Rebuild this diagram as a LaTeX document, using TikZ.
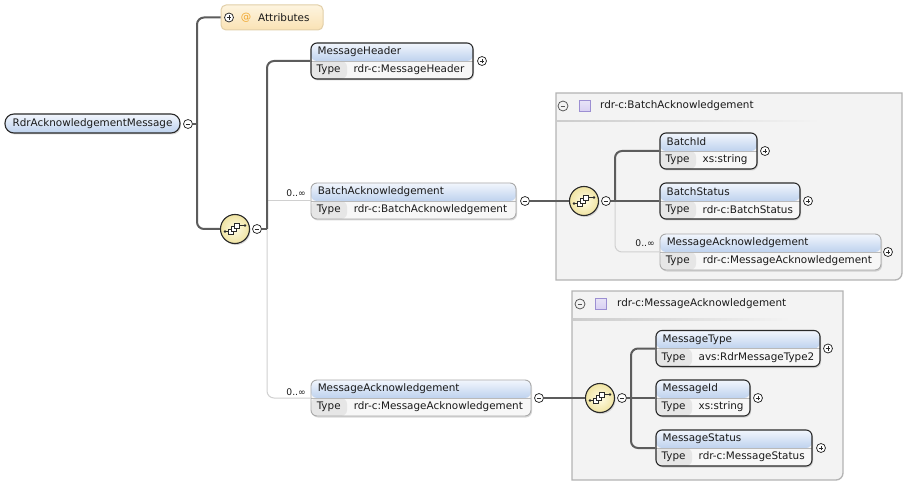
\documentclass[tikz,border=0pt]{standalone}
\usepackage{fontspec}
\setmainfont{DejaVu Sans}
\usetikzlibrary{calc,shadows}
\definecolor{hdTop}{HTML}{F2F6FD}
\definecolor{hdBot}{HTML}{BED2EE}
\definecolor{typeGray}{HTML}{E6E6E6}
\definecolor{valWhite}{HTML}{F7F7F7}
\definecolor{boxBorder}{HTML}{2A2A2A}
\definecolor{optBorder}{HTML}{A9A9A9}
\definecolor{lineDark}{HTML}{5C5C5C}
\definecolor{lineLight}{HTML}{D0D0D0}
\definecolor{grpFill}{HTML}{F3F3F3}
\definecolor{grpBorder}{HTML}{B4B4B4}
\definecolor{sepGray}{HTML}{CCCCCC}
\definecolor{attTop}{HTML}{FDF4DF}
\definecolor{attBot}{HTML}{FAE2B4}
\definecolor{attBorder}{HTML}{E2CFA8}
\definecolor{atOrange}{HTML}{F0A830}
\definecolor{seqIn}{HTML}{FFFCE6}
\definecolor{seqOut}{HTML}{F0E4A2}
\definecolor{purpFill}{HTML}{D8D0F2}
\definecolor{purpBorder}{HTML}{9C8FD2}
\definecolor{txt}{HTML}{1A1A1A}
\tikzset{
  conn/.style={draw=lineDark, line width=2pt},
  optconn/.style={draw=lineLight, line width=1pt},
  softshadow/.style={drop shadow={opacity=0.3, shadow xshift=1pt, shadow yshift=-1.5pt}},
  elembox/.style={rectangle, rounded corners=6pt, draw=boxBorder, line width=1.1pt,
    minimum height=36pt, inner sep=0pt, softshadow,
    path picture={
      \fill[valWhite] (path picture bounding box.south west) rectangle (path picture bounding box.north east);
      \shade[top color=hdTop, bottom color=hdBot] (path picture bounding box.north west) rectangle (path picture bounding box.east);
      \fill[typeGray] (path picture bounding box.south west) rectangle ([xshift=36pt]path picture bounding box.west);
      \draw[gray!55, line width=0.5pt] (path picture bounding box.west) -- (path picture bounding box.east);
    }},
  optbox/.style={draw=optBorder, line width=0.9pt},
  titletext/.style={anchor=west, inner sep=0pt, text=txt},
  typetext/.style={anchor=west, inner sep=0pt, text=txt},
  multtext/.style={anchor=east, inner sep=0pt, text=txt, font=\fontsize{9.2}{10}\selectfont},
  pmnode/.style={circle, draw=boxBorder, line width=0.75pt, fill=white, minimum size=9pt, inner sep=0pt},
  pmminus/.style={pmnode, path picture={
      \draw[line width=0.8pt] ([xshift=-2.3pt]path picture bounding box.center) -- ([xshift=2.3pt]path picture bounding box.center);}},
  pmplus/.style={pmnode, path picture={
      \draw[line width=0.8pt] ([xshift=-2.3pt]path picture bounding box.center) -- ([xshift=2.3pt]path picture bounding box.center);
      \draw[line width=0.8pt] ([yshift=-2.3pt]path picture bounding box.center) -- ([yshift=2.3pt]path picture bounding box.center);}},
  seqnode/.style={circle, draw=boxBorder, line width=1.1pt, minimum size=29pt, inner sep=0pt,
    inner color=seqIn, outer color=seqOut, softshadow,
    path picture={
      \begin{scope}[shift={(path picture bounding box.center)}]
        \draw[line width=0.7pt, boxBorder] (-10,2.5) -- (-4,2.5);
        \draw[line width=0.7pt, boxBorder] (4,-3.5) -- (10,-3.5);
        \fill[boxBorder] (-10,2.5) circle (1.4);
        \fill[boxBorder] (10,-3.5) circle (1.4);
        \filldraw[fill=white, draw=boxBorder, line width=0.7pt] (-7,0) rectangle (-1.5,5.5);
        \filldraw[fill=white, draw=boxBorder, line width=0.7pt] (-4,-3) rectangle (1.5,2.5);
        \filldraw[fill=white, draw=boxBorder, line width=0.7pt] (-1,-6) rectangle (4.5,-0.5);
      \end{scope}
    }},
  grp/.style={fill=grpFill, draw=grpBorder, line width=1.3pt},
  purpsq/.style={rectangle, minimum size=11pt, inner sep=0pt, draw=purpBorder, line width=0.6pt,
    top color=purpFill!60!white, bottom color=purpFill},
  grpminus/.style={pmminus, draw=boxBorder!80, minimum size=10pt, fill=grpFill},
  rootbox/.style={rectangle, rounded corners=9pt, draw=boxBorder, line width=1.1pt, softshadow,
    top color=hdTop, bottom color=hdBot, minimum height=19pt, inner sep=0pt, text=txt},
  attrbox/.style={rectangle, rounded corners=5pt, draw=attBorder, line width=1pt,
    top color=attTop, bottom color=attBot, inner sep=0pt}
}
\newcommand\elem[6]{%
  \node[elembox,#6,minimum width=#4pt] (#1) at (#2,#3) {};
  \node[titletext] (#1-t) at ([xshift=7pt,yshift=9pt]#1.west) {#5};
  \node[typetext] (#1-k) at ([xshift=6pt,yshift=-9pt]#1.west) {Type};
}
\newcommand\elemtype[2]{%
  \node[typetext] (#1-v) at ([xshift=43pt,yshift=-9pt]#1.west) {#2};
}
\begin{document}
\begin{tikzpicture}[x=1pt, y=-1pt, font=\fontsize{10.4}{12}\selectfont]
\useasboundingbox (0,0) rectangle (906,484);
\fill[white] (0,0) rectangle (906,484);

% group boxes
\filldraw[grp] (556,93) -- (902,93) [rounded corners=7pt] -- (902,280) [sharp corners] -- (556,280) -- cycle;
\shade[left color=sepGray, right color=grpFill] (557,120.5) rectangle (820,122);
\node[grpminus] (g1pm) at (563,106) {};
\node[purpsq] (g1sq) at (584.5,106) {};
\node[titletext] (g1t) at (600,106) {rdr-c:BatchAcknowledgement};

\filldraw[grp] (572,291) -- (843,291) [rounded corners=7pt] -- (843,480) [sharp corners] -- (572,480) -- cycle;
\shade[left color=sepGray, right color=grpFill] (573,318.5) rectangle (790,320);
\node[grpminus] (g2pm) at (580,304) {};
\node[purpsq] (g2sq) at (600.5,304) {};
\node[titletext] (g2t) at (617,304) {rdr-c:MessageAcknowledgement};

% root and attributes
\node[rootbox, minimum width=175pt] (root) at (92.5,123.5) {RdrAcknowledgementMessage};
\node[pmminus] (rootpm) at (188,124) {};
\node[attrbox, minimum width=102pt, minimum height=25pt] (attrs) at (272,17.5) {};
\node[pmplus] (attrspm) at (229,17.5) {};
\node[inner sep=0pt, text=atOrange] (attrsat) at (246,17.5) {@};
\node[titletext] (attrst) at (258,17.5) {Attributes};

% sequence compositors
\node[seqnode] (seq1) at (235,229) {};
\node[pmminus] (seq1pm) at (257,229) {};
\node[seqnode] (seq2) at (584,201) {};
\node[pmminus] (seq2pm) at (606,201) {};
\node[seqnode] (seq3) at (600,398) {};
\node[pmminus] (seq3pm) at (622,398) {};

% elements, level 1
\elem{mh}{392}{61}{162}{MessageHeader}{}
\elemtype{mh}{rdr-c:MessageHeader}
\node[pmplus] (mhpm) at (482,61) {};

\elem{ba}{413.5}{201}{205}{BatchAcknowledgement}{optbox}
\elemtype{ba}{rdr-c:BatchAcknowledgement}
\node[pmminus] (bapm) at (525,201) {};
\node[multtext] (bam) at (306,193) {0..∞};

\elem{ma}{421}{398}{220}{MessageAcknowledgement}{optbox}
\elemtype{ma}{rdr-c:MessageAcknowledgement}
\node[pmminus] (mapm) at (539,398) {};
\node[multtext] (mam) at (306,392) {0..∞};

% elements inside BatchAcknowledgement
\elem{bid}{708.5}{151}{97}{BatchId}{}
\elemtype{bid}{xs:string}
\node[pmplus] (bidpm) at (765,151) {};
\elem{bs}{730}{201}{140}{BatchStatus}{}
\elemtype{bs}{rdr-c:BatchStatus}
\node[pmplus] (bspm) at (808,201) {};
\elem{ma2}{770.5}{252}{221}{MessageAcknowledgement}{optbox}
\elemtype{ma2}{rdr-c:MessageAcknowledgement}
\node[pmplus] (ma2pm) at (888,252) {};
\node[multtext] (ma2m) at (655,243) {0..∞};

% elements inside MessageAcknowledgement
\elem{mt}{738}{348.5}{164}{MessageType}{}
\elemtype{mt}{avs:RdrMessageType2}
\node[pmplus] (mtpm) at (828,348.5) {};
\elem{mid}{703}{398}{94}{MessageId}{}
\elemtype{mid}{xs:string}
\node[pmplus] (midpm) at (758,398) {};
\elem{ms}{734}{448}{156}{MessageStatus}{}
\elemtype{ms}{rdr-c:MessageStatus}
\node[pmplus] (mspm) at (821,448) {};

% junction coordinates
\coordinate (j1) at (197,124);
\coordinate (j2) at (267,229);
\coordinate (j3) at (615,201);
\coordinate (j4) at (631,398);

% connectors
\draw[optconn, rounded corners=7pt] (j2) |- (ma.west);
\draw[optconn] (j2 |- ba.west) -- (ba.west);
\draw[optconn, rounded corners=7pt] (j3) |- (ma2.west);
\draw[conn] (rootpm.east) -- (j1);
\draw[conn, rounded corners=7pt] (attrs.west) -| (j1) |- (seq1.west);
\draw[conn] (seq1pm.east) -- (j2);
\draw[conn, rounded corners=7pt] (j2) |- (mh.west);
\draw[conn] (bapm.east) -- (seq2.west);
\draw[conn] (seq2pm.east) -- (bs.west);
\draw[conn, rounded corners=7pt] (j3) |- (bid.west);
\draw[conn] (mapm.east) -- (seq3.west);
\draw[conn] (seq3pm.east) -- (mid.west);
\draw[conn, rounded corners=7pt] (j4) |- (mt.west);
\draw[conn, rounded corners=7pt] (j4) |- (ms.west);
\end{tikzpicture}
\end{document}
